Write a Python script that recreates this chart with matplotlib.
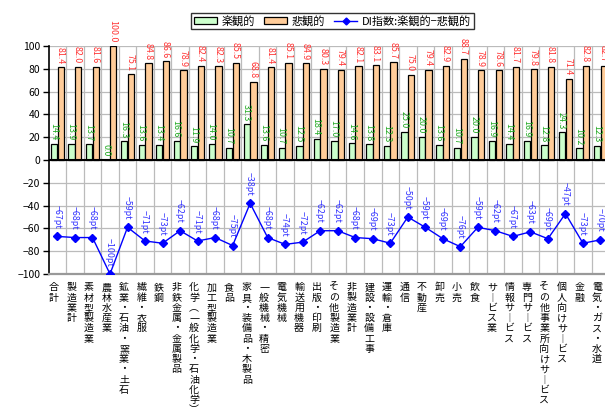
import matplotlib
matplotlib.use("Agg")
from matplotlib import pyplot as plt
from matplotlib.lines import Line2D
import matplotlib.patches as mpatches
import numpy as np

plt.rcParams["font.family"] = ["Noto Sans CJK JP", "DejaVu Sans"]

categories = [
    "合計", "製造業計", "素材型製造業", "農林水産業", "鉱業・石油・窯業・土石",
    "繊維・衣服", "鉄鋼", "非鉄金属・金属製品", "化学（一般化学・石油化学）",
    "加工型製造業", "食品", "家具・装備品・木製品", "一般機械・精密", "電気機械",
    "輸送用機器", "出版・印刷", "その他製造業", "非製造業計", "建設・設備工事",
    "運輸・倉庫", "通信", "不動産", "卸売", "小売", "飲食", "サービス業",
    "情報サービス", "専門サービス", "その他事業所向けサービス", "個人向けサービス",
    "金融", "電気・ガス・水道",
]
optimistic = [
    14.4, 13.9, 13.7, 0.0, 16.3, 13.6, 13.4, 16.6, 11.9, 14.0, 10.7, 31.3,
    13.6, 10.7, 12.5, 18.4, 17.0, 14.6, 13.8, 12.3, 25.0, 20.0, 13.6, 10.7,
    20.0, 16.9, 14.4, 16.9, 12.8, 24.3, 10.2, 12.3,
]
pessimistic = [
    81.4, 82.0, 81.6, 100.0, 75.1, 84.8, 86.6, 78.9, 82.4, 82.3, 85.5, 68.8,
    81.4, 85.1, 84.9, 80.3, 79.4, 82.1, 83.1, 85.7, 75.0, 79.4, 82.9, 88.7,
    78.9, 78.6, 81.7, 79.8, 81.8, 71.4, 82.8, 82.7,
]
di_index = [
    -67, -68, -68, -100, -59, -71, -73, -62, -71, -68, -75, -38, -68, -74,
    -72, -62, -62, -68, -69, -73, -50, -59, -69, -76, -59, -62, -67, -63,
    -69, -47, -73, -70,
]

GREEN = "#CCFFCC"
ORANGE = "#FFCC99"
BLUE = "#0000FF"


def vertical_text(label):
    # stack characters top to bottom, using vertical forms where needed
    swap = {"ー": "︱", "（": "︵", "）": "︶"}
    return "\n".join(swap.get(ch, ch) for ch in label)


fig = plt.figure(figsize=(6.05, 4.19), dpi=100)
ax = fig.add_axes([0.0805, 0.346, 0.9265, 0.544])

x = np.arange(len(categories))
w = 0.36
off = 0.19

ax.bar(x - off, optimistic, w, color=GREEN, edgecolor="black", linewidth=0.9, zorder=3)
ax.bar(x + off, pessimistic, w, color=ORANGE, edgecolor="black", linewidth=0.9, zorder=3)
ax.plot(x, di_index, color=BLUE, lw=1.0, marker="D", markersize=4.2, zorder=4)

lbl = dict(textcoords="offset points", rotation=270, ha="center", va="bottom",
           fontsize=6.4, annotation_clip=False, zorder=5)
for i in range(len(categories)):
    ax.annotate(f"{optimistic[i]:.1f}", (x[i] - off, optimistic[i]), xytext=(-0.5, 2.5),
                color="#22AA22", **lbl)
    ax.annotate(f"{pessimistic[i]:.1f}", (x[i] + off, pessimistic[i]), xytext=(-0.5, 2.5),
                color="#FF3333", **lbl)
    ax.annotate(f"\u2212{abs(di_index[i])}pt", (x[i], di_index[i]), xytext=(-0.5, 5.5),
                color="#3333FF", **lbl)

ax.set_xlim(-0.5, len(categories) - 0.5)
ax.set_ylim(-100, 100)
ax.set_yticks(range(-100, 101, 20))
ax.tick_params(axis="y", direction="out", length=4, width=1, labelsize=7.5, pad=2)

# vertical grid between categories, horizontal grid every 20
for b in np.arange(0.5, len(categories), 1.0):
    ax.axvline(b, color="#BBBBBB", lw=0.9, zorder=1)
for yv in range(-80, 101, 20):
    ax.axhline(yv, color="#BBBBBB", lw=0.9, zorder=1)
ax.axhline(0, color="black", lw=1.5, zorder=3.5)

ax.set_xticks(x - 0.2)
ax.set_xticklabels([vertical_text(c) for c in categories], fontsize=7.2,
                   linespacing=1.03, va="top")
ax.tick_params(axis="x", length=0, pad=6)

for side in ("top", "right"):
    ax.spines[side].set_visible(False)
ax.spines["left"].set_color("black")
ax.spines["left"].set_linewidth(1.2)
ax.spines["bottom"].set_color("#999999")
ax.spines["bottom"].set_linewidth(1.6)

handles = [
    mpatches.Patch(facecolor=GREEN, edgecolor="black", linewidth=0.9, label="楽観的"),
    mpatches.Patch(facecolor=ORANGE, edgecolor="black", linewidth=0.9, label="悲観的"),
    Line2D([], [], color=BLUE, lw=1.0, marker="D", markersize=3.5, label="DI指数:楽観的−悲観的"),
]
leg = fig.legend(handles=handles, loc="upper left", bbox_to_anchor=(0.312, 0.975),
                 ncol=3, fontsize=8, frameon=True, fancybox=False, edgecolor="black",
                 borderpad=0.25, handlelength=2.1, handleheight=0.6, handletextpad=0.4,
                 columnspacing=0.8, borderaxespad=0.2)
leg.get_frame().set_linewidth(1.0)

fig.savefig("out.png", dpi=100)
